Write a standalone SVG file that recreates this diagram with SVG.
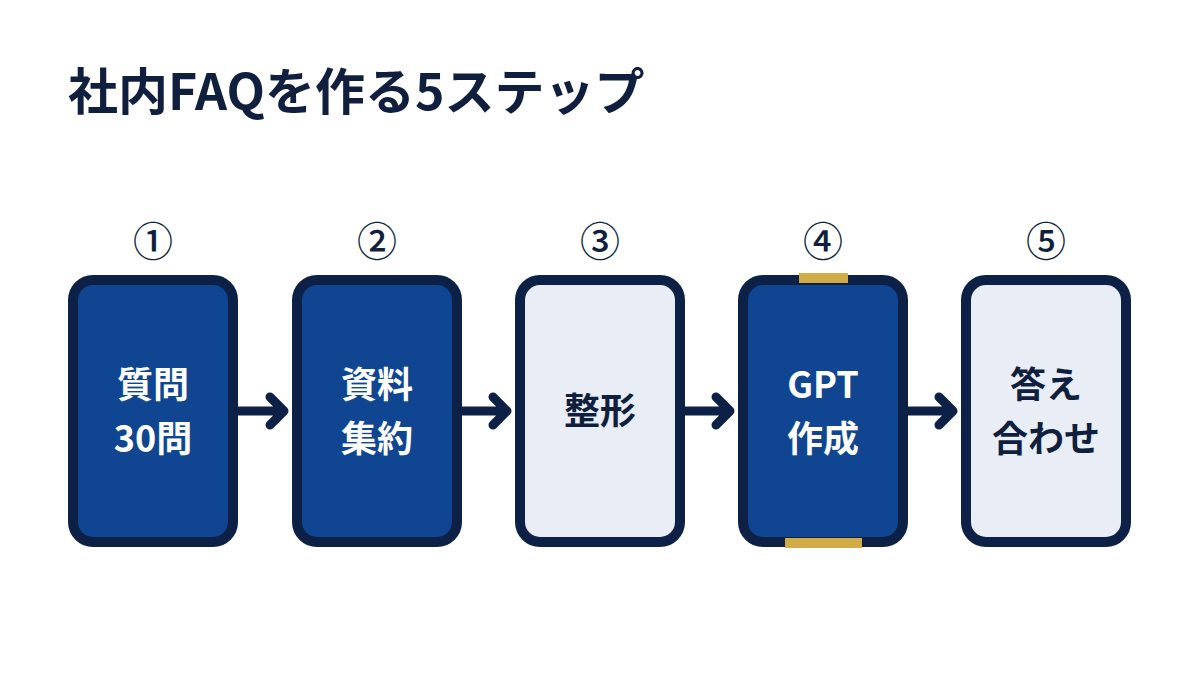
<svg xmlns="http://www.w3.org/2000/svg" width="1200" height="675" viewBox="0 0 1200 675">
<style>
text{font-family:"Noto Sans CJK JP","Noto Sans",sans-serif;font-weight:700;text-anchor:middle}
.t{fill:#0f1f3d}
.c{stroke:#0d2146;stroke-width:10}
.d{fill:#0f4591}.l{fill:#e8edf6}
.w{fill:#fff;font-size:36px}.k{fill:#0f1f3d;font-size:36px}
.n{fill:#0f1f3d;font-size:40px;font-weight:500}
.a{stroke:#0d2146;stroke-width:9;fill:none;stroke-linecap:round;stroke-linejoin:round}
</style>
<rect width="1200" height="675" fill="#fff"/>
<text class="t" x="68" y="110" style="text-anchor:start;font-size:50px">社内FAQを作る5ステップ</text>
<g id="n1"><rect class="c d" x="73" y="280" width="160" height="262" rx="20"/><text class="n" x="153" y="256">①</text><text class="w" x="153" y="398">質問</text><text class="w" x="153" y="452">30問</text></g>
<g id="n2"><rect class="c d" x="297" y="280" width="160" height="262" rx="20"/><text class="n" x="377" y="256">②</text><text class="w" x="377" y="398">資料</text><text class="w" x="377" y="452">集約</text></g>
<g id="n3"><rect class="c l" x="520" y="280" width="160" height="262" rx="20"/><text class="n" x="600" y="256">③</text><text class="k" x="600" y="424">整形</text></g>
<g id="n4"><rect class="c d" x="743" y="280" width="160" height="262" rx="20"/><rect x="799" y="273" width="49" height="10" fill="#d1ab45"/><rect x="785" y="538" width="77" height="10" fill="#d1ab45"/><text class="n" x="823" y="256">④</text><text class="w" x="823" y="398">GPT</text><text class="w" x="823" y="452">作成</text></g>
<g id="n5"><rect class="c l" x="966" y="280" width="160" height="262" rx="20"/><text class="n" x="1046" y="256">⑤</text><text class="k" x="1046" y="398">答え</text><text class="k" x="1046" y="452">合わせ</text></g>
<g id="connectors">
<path class="a" d="M238 411H282M270 397L284 411L270 425"/>
<path class="a" d="M462 411H505M493 397L507 411L493 425"/>
<path class="a" d="M685 411H728M716 397L730 411L716 425"/>
<path class="a" d="M908 411H951M939 397L953 411L939 425"/>
</g>
</svg>
